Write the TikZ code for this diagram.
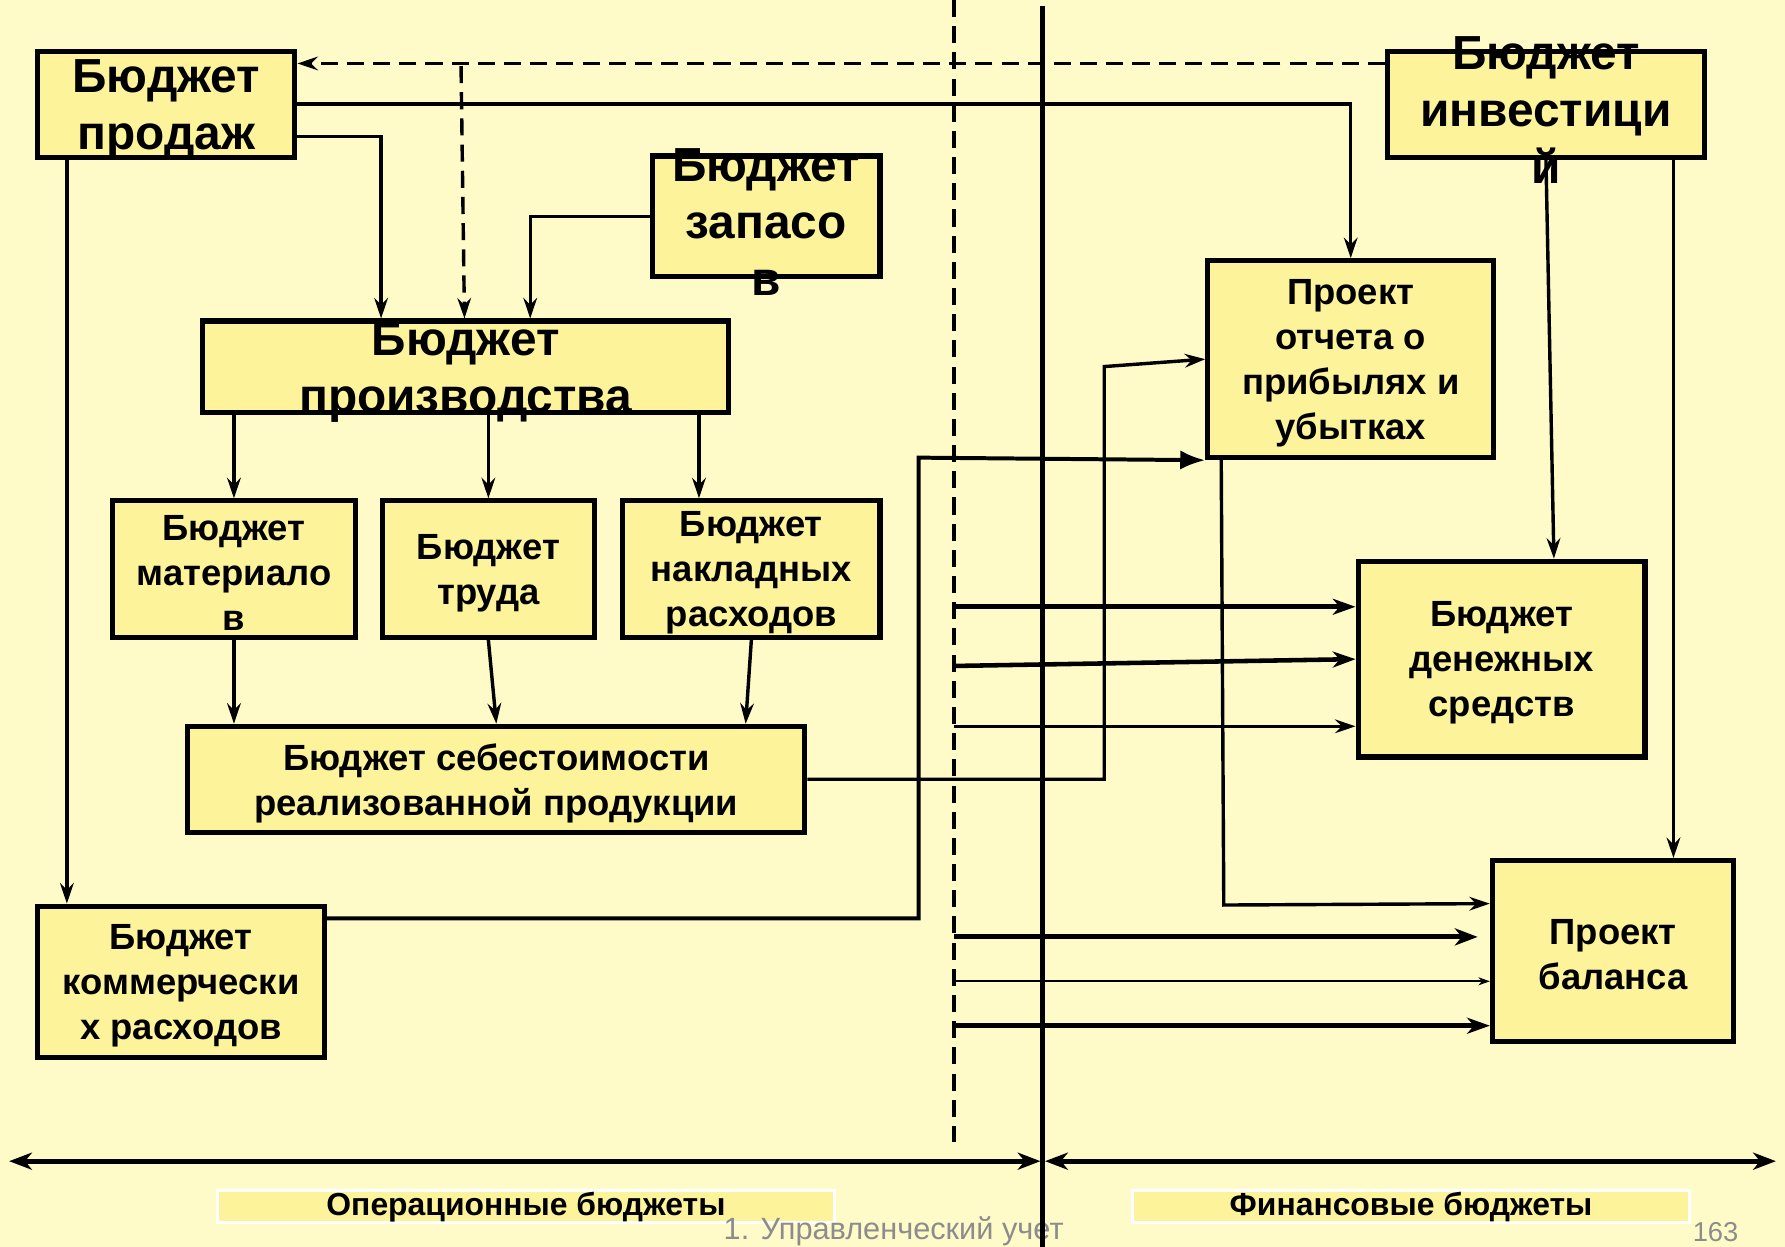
\documentclass[tikz,border=0pt]{standalone}
\usepackage{fontspec}
\setmainfont{Liberation Sans}
\usetikzlibrary{arrows.meta}
\definecolor{slidebg}{RGB}{255,251,200}
\definecolor{boxfill}{RGB}{252,243,155}
\definecolor{footgray}{RGB}{140,140,140}
\tikzset{
    budget/.style={draw, line width=4.5pt, fill=boxfill, inner sep=0pt},
    bigtxt/.style={font=\fontsize{42}{50}\selectfont\bfseries, align=center, yshift=-5pt},
    midtxt/.style={font=\fontsize{32}{39.5}\selectfont\bfseries, align=center, yshift=-3.5pt},
    conn/.style={line width=3pt, -{Stealth[length=18pt,width=12pt,inset=6pt]}},
    boldconn/.style={line width=4pt, -{Stealth[length=20pt,width=14pt,inset=6pt]}},
    thinconn/.style={line width=1.5pt, -{Stealth[length=10pt,width=7pt,inset=3pt]}},
    dashline/.style={line width=3pt, dash pattern=on 15pt off 8pt},
    tagbox/.style={fill=boxfill, draw=white, line width=3pt, inner sep=0pt,
        minimum height=28pt, font=\fontsize{28}{30}\selectfont\bfseries},
}
\begin{document}
\begin{tikzpicture}[x=1pt, y=-1pt]
    \useasboundingbox (0,0) rectangle (1568,1095);
    \fill[slidebg] (0,0) rectangle (1568,1095);

    % operational / financial split
    \draw[dashline] (838,0) -- (838,1003);

    % operational budgets
    \node[budget, minimum width=226pt, minimum height=93pt,
        label={[bigtxt]center:Бюджет\\продаж}] (prodazh) at (146,91.5) {};
    \node[budget, minimum width=200pt, minimum height=106pt,
        label={[bigtxt]center:Бюджет\\запасо\\в}] (zapasov) at (673,190) {};
    \node[budget, minimum width=462pt, minimum height=80pt,
        label={[bigtxt]center:Бюджет\\производства}] (proizv) at (409,322) {};
    \node[budget, minimum width=213pt, minimum height=120pt,
        label={[midtxt]center:Бюджет\\материало\\в}] (mater) at (205.5,500) {};
    \node[budget, minimum width=186pt, minimum height=120pt,
        label={[midtxt]center:Бюджет\\труда}] (truda) at (429,500) {};
    \node[budget, minimum width=226pt, minimum height=120pt,
        label={[midtxt]center:Бюджет\\накладных\\расходов}] (naklad) at (660,500) {};
    \node[budget, minimum width=542pt, minimum height=93pt,
        label={[midtxt]center:Бюджет себестоимости\\реализованной продукции}] (sebest) at (436,684.5) {};
    \node[budget, minimum width=252pt, minimum height=133pt,
        label={[midtxt]center:Бюджет\\коммерчески\\х расходов}] (kommer) at (159,862.5) {};

    % financial budgets
    \node[budget, minimum width=278pt, minimum height=93pt,
        label={[bigtxt]center:Бюджет\\инвестици\\й}] (invest) at (1358,91.5) {};
    \node[budget, minimum width=251pt, minimum height=173pt,
        label={[midtxt]center:Проект\\отчета о\\прибылях и\\убытках}] (pribyl) at (1186.5,315.5) {};
    \node[budget, minimum width=252pt, minimum height=172pt,
        label={[midtxt]center:Бюджет\\денежных\\средств}] (denezh) at (1319,579) {};
    \node[budget, minimum width=212pt, minimum height=159pt,
        label={[midtxt]center:Проект\\баланса}] (balans) at (1417,835.5) {};

    % links
    \coordinate (branch) at (405,58);
    \draw[dashline, -{Stealth[length=18pt,width=12pt,inset=6pt]}]
        ([yshift=-13pt]invest.north west) -- ([yshift=-13pt]prodazh.north east);
    \draw[dashline, -{Stealth[length=18pt,width=12pt,inset=6pt]}]
        (branch) -- ([xshift=-1pt]proizv.north);
    \draw[conn] (prodazh.east) -| (pribyl.north);
    \draw[conn] ([yshift=-28.5pt]prodazh.east) -| ([xshift=159pt]proizv.north west);
    \draw[conn] (zapasov.west) -| ([xshift=290pt]proizv.north west);
    \draw[conn] ([xshift=28pt]prodazh.south west) -- ([xshift=28pt]kommer.north west);
    \draw[conn] (proizv.south -| mater.north) -- (mater.north);
    \draw[conn] (proizv.south -| truda.north) -- (truda.north);
    \draw[conn] ([xshift=205pt]proizv.south) -- ([xshift=-46pt]naklad.north);
    \draw[conn] (mater.south) -- (mater.south |- sebest.north);
    \draw[conn] (truda.south) -- (sebest.north);
    \draw[conn] (naklad.south) -- ([xshift=219pt]sebest.north);
    \draw[conn] (sebest.east) -| (970,322) -- (pribyl.west);
    \draw[line width=3.5pt, -{Latex[length=22pt,width=17pt]}]
        ([yshift=-13pt]kommer.north east) -| (807,402) -- (pribyl.south west);
    \draw[conn] ([xshift=14pt]pribyl.south west) -- (1075,795)
        -- ([yshift=-40pt]balans.north west);
    \draw[conn] (invest.south) -- ([xshift=46pt]denezh.north);
    \draw[conn] ([xshift=112pt]invest.south) -- ([xshift=53pt]balans.north);

    % inputs from the operational side
    \foreach \y [count=\i] in {533,585,638,823,862,901}
        \coordinate (src\i) at (838,\y);
    \draw[boldconn] (src1) -- (denezh.west |- src1);
    \draw[boldconn] (src2) -- (denezh.west);
    \draw[conn] (src3) -- (denezh.west |- src3);
    \draw[line width=4.5pt, -{Stealth[length=20pt,width=15pt,inset=6pt]}] (src4) -- ++(460,0);
    \draw[thinconn] (src5) -- (balans.west |- src5);
    \draw[boldconn] (src6) -- (balans.west |- src6);

    % span arrows and captions
    \coordinate (opL) at (8,1020);
    \coordinate (opR) at (914,1020);
    \coordinate (finL) at (918,1020);
    \coordinate (finR) at (1560,1020);
    \draw[line width=4.5pt, {Stealth[length=20pt,width=15pt,inset=6pt]}-{Stealth[length=20pt,width=15pt,inset=6pt]}] (opL) -- (opR);
    \draw[line width=4.5pt, {Stealth[length=20pt,width=15pt,inset=6pt]}-{Stealth[length=20pt,width=15pt,inset=6pt]}] (finL) -- (finR);
    \node[tagbox, minimum width=542pt] (opTag) at (462,1060) {\raisebox{-2pt}{Операционные бюджеты}};
    \node[tagbox, minimum width=489pt] (finTag) at (1239.5,1060) {\raisebox{-2pt}{Финансовые бюджеты}};

    \node[font=\fontsize{27}{30}\selectfont, text=footgray] (footer) at (785,1082) {1. Управленческий учет};
    \node[font=\fontsize{24}{28}\selectfont, text=footgray] (pageNo) at (1507,1082) {163};
    \draw[line width=4.5pt] (916,5) -- (916,1095);
\end{tikzpicture}
\end{document}
